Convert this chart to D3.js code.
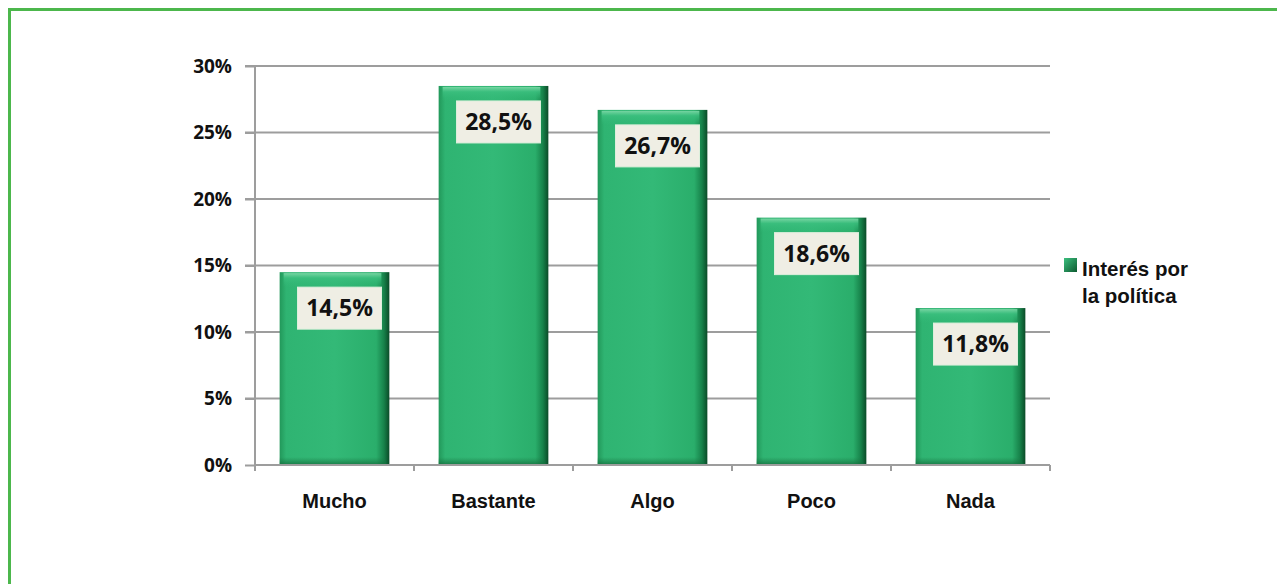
<!DOCTYPE html>
<html>
<head>
	<meta charset="utf-8">
	<title>Interés por la política</title>
	<script src="https://cdn.jsdelivr.net/npm/d3@7"></script>
	<style>
		body { margin: 0; background: #fff; }
		svg { display: block; }
	</style>
</head>
<body>
<div id="vis"></div>
<script type="text/javascript">
// data
var categories = ['Mucho', 'Bastante', 'Algo', 'Poco', 'Nada'];
var values = [14.5, 28.5, 26.7, 18.6, 11.8];
var valueLabels = ['14,5%', '28,5%', '26,7%', '18,6%', '11,8%'];
var yTicks = [0, 5, 10, 15, 20, 25, 30];
var seriesName = ['Interés por', 'la política'];

const W = 1277, H = 584;
const COLOR_BORDER = '#4cb74c';
const COLOR_GRID = '#9d9d9d';

var svg = d3.select('#vis').append('svg').attr('width', W).attr('height', H);
svg.append('rect').attr('width', W).attr('height', H).attr('fill', '#fff');

// outer green frame (only top and left visible in the crop)
svg.append('path')
	.attr('d', 'M9.5,' + H + ' L9.5,9.5 L' + W + ',9.5')
	.attr('fill', 'none').attr('stroke', COLOR_BORDER).attr('stroke-width', 3);

var plot = { left: 255, right: 1050, top: 66, bottom: 465 };

var x = d3.scaleBand().domain(categories).range([plot.left, plot.right]).paddingInner(0.31).paddingOuter(0.155);
var xEdge = d3.scaleBand().domain(categories).range([plot.left, plot.right]);
var y = d3.scaleLinear().domain([0, 30]).range([plot.bottom, plot.top]);

// gradients for the bevelled bars
var defs = svg.append('defs');
var hg = defs.append('linearGradient').attr('id', 'barH').attr('x1', 0).attr('x2', 1).attr('y1', 0).attr('y2', 0);
[[0, '#22985a'], [0.06, '#2fb472'], [0.5, '#33b977'], [0.88, '#2aae6b'], [0.95, '#17824a'], [1, '#0b4b28']].forEach(function(s){
	hg.append('stop').attr('offset', s[0]).attr('stop-color', s[1]);
});
var tg = defs.append('linearGradient').attr('id', 'barTop').attr('x1', 0).attr('x2', 0).attr('y1', 0).attr('y2', 1);
tg.append('stop').attr('offset', 0).attr('stop-color', '#7fd9a8').attr('stop-opacity', 0.9);
tg.append('stop').attr('offset', 0.35).attr('stop-color', '#3cc07f').attr('stop-opacity', 0.8);
tg.append('stop').attr('offset', 1).attr('stop-color', '#33b977').attr('stop-opacity', 0);
var bg = defs.append('linearGradient').attr('id', 'barBottom').attr('x1', 0).attr('x2', 0).attr('y1', 0).attr('y2', 1);
bg.append('stop').attr('offset', 0).attr('stop-color', '#1a7a45').attr('stop-opacity', 0);
bg.append('stop').attr('offset', 1).attr('stop-color', '#136a3a').attr('stop-opacity', 0.8);
var lg = defs.append('linearGradient').attr('id', 'legendSq').attr('x1', 0).attr('x2', 1).attr('y1', 0).attr('y2', 1);
lg.append('stop').attr('offset', 0).attr('stop-color', '#3cc07f');
lg.append('stop').attr('offset', 1).attr('stop-color', '#0d5a30');

// gridlines
svg.append('g').selectAll('line').data(yTicks.filter(function(d){ return d > 0; }))
	.enter().append('line')
	.attr('x1', plot.left - 10).attr('x2', plot.right)
	.attr('y1', function(d){ return y(d); }).attr('y2', function(d){ return y(d); })
	.attr('stroke', COLOR_GRID).attr('stroke-width', 2);

// y axis
var yAxis = svg.append('g').attr('transform', 'translate(' + plot.left + ',0)')
	.call(d3.axisLeft(y).tickValues(yTicks).tickSize(10).tickPadding(13).tickFormat(function(d){ return d + '%'; }));
yAxis.select('.domain').attr('stroke', COLOR_GRID).attr('stroke-width', 2).attr('d', 'M0,' + plot.top + 'V' + (plot.bottom + 6));
yAxis.selectAll('.tick line').attr('stroke', COLOR_GRID).attr('stroke-width', 2);
yAxis.selectAll('.tick text')
	.attr('font-family', 'Open Sans, sans-serif').attr('font-weight', 700).attr('font-size', 19).attr('fill', '#111');

// bars
var bars = svg.append('g').selectAll('g').data(values).enter().append('g');
bars.append('rect')
	.attr('x', function(d, i){ return x(categories[i]); })
	.attr('y', function(d){ return y(d); })
	.attr('width', x.bandwidth())
	.attr('height', function(d){ return y(0) - y(d); })
	.attr('fill', 'url(#barH)');
bars.append('rect')
	.attr('x', function(d, i){ return x(categories[i]) + 4; })
	.attr('y', function(d){ return y(d) + 1; })
	.attr('width', x.bandwidth() - 12)
	.attr('height', 14)
	.attr('fill', 'url(#barTop)');
bars.append('rect')
	.attr('x', function(d, i){ return x(categories[i]); })
	.attr('y', y(0) - 8)
	.attr('width', x.bandwidth() - 4)
	.attr('height', 8)
	.attr('fill', 'url(#barBottom)');

// x axis
svg.append('line').attr('x1', plot.left).attr('x2', plot.right)
	.attr('y1', y(0)).attr('y2', y(0)).attr('stroke', COLOR_GRID).attr('stroke-width', 2);
svg.append('g').selectAll('line').data(categories).enter().append('line')
	.attr('x1', function(d){ return xEdge(d) + xEdge.bandwidth(); })
	.attr('x2', function(d){ return xEdge(d) + xEdge.bandwidth(); })
	.attr('y1', y(0)).attr('y2', y(0) + 6)
	.attr('stroke', COLOR_GRID).attr('stroke-width', 2);
svg.append('g').selectAll('text').data(categories).enter().append('text')
	.attr('x', function(d){ return x(d) + x.bandwidth() / 2; })
	.attr('y', 508)
	.attr('text-anchor', 'middle')
	.attr('font-family', 'Liberation Sans, Arial, sans-serif').attr('font-weight', 700).attr('font-size', 20)
	.attr('fill', '#111')
	.text(function(d){ return d; });

// value labels
var labels = svg.append('g').selectAll('g').data(values).enter().append('g')
	.attr('transform', function(d, i){
		return 'translate(' + (x(categories[i]) + x.bandwidth() / 2 + 5) + ',' + (y(d) + 36) + ')';
	});
labels.append('rect')
	.attr('x', -42).attr('y', -21).attr('width', 84).attr('height', 42)
	.attr('fill', '#efeee4').attr('stroke', '#dcefdc').attr('stroke-width', 1);
labels.append('text')
	.attr('text-anchor', 'middle').attr('dy', '0.36em')
	.attr('font-family', 'Open Sans, sans-serif').attr('font-weight', 700).attr('font-size', 23)
	.attr('fill', '#111')
	.text(function(d, i){ return valueLabels[i]; });

// legend
var legend = svg.append('g').attr('transform', 'translate(1064,258)');
legend.append('rect').attr('width', 13).attr('height', 14).attr('fill', 'url(#legendSq)');
legend.selectAll('text').data(seriesName).enter().append('text')
	.attr('x', 18).attr('y', function(d, i){ return 18 + i * 27; })
	.attr('font-family', 'Liberation Sans, Arial, sans-serif').attr('font-weight', 700).attr('font-size', 20.5)
	.attr('fill', '#111')
	.text(function(d){ return d; });
</script>
</body>
</html>
